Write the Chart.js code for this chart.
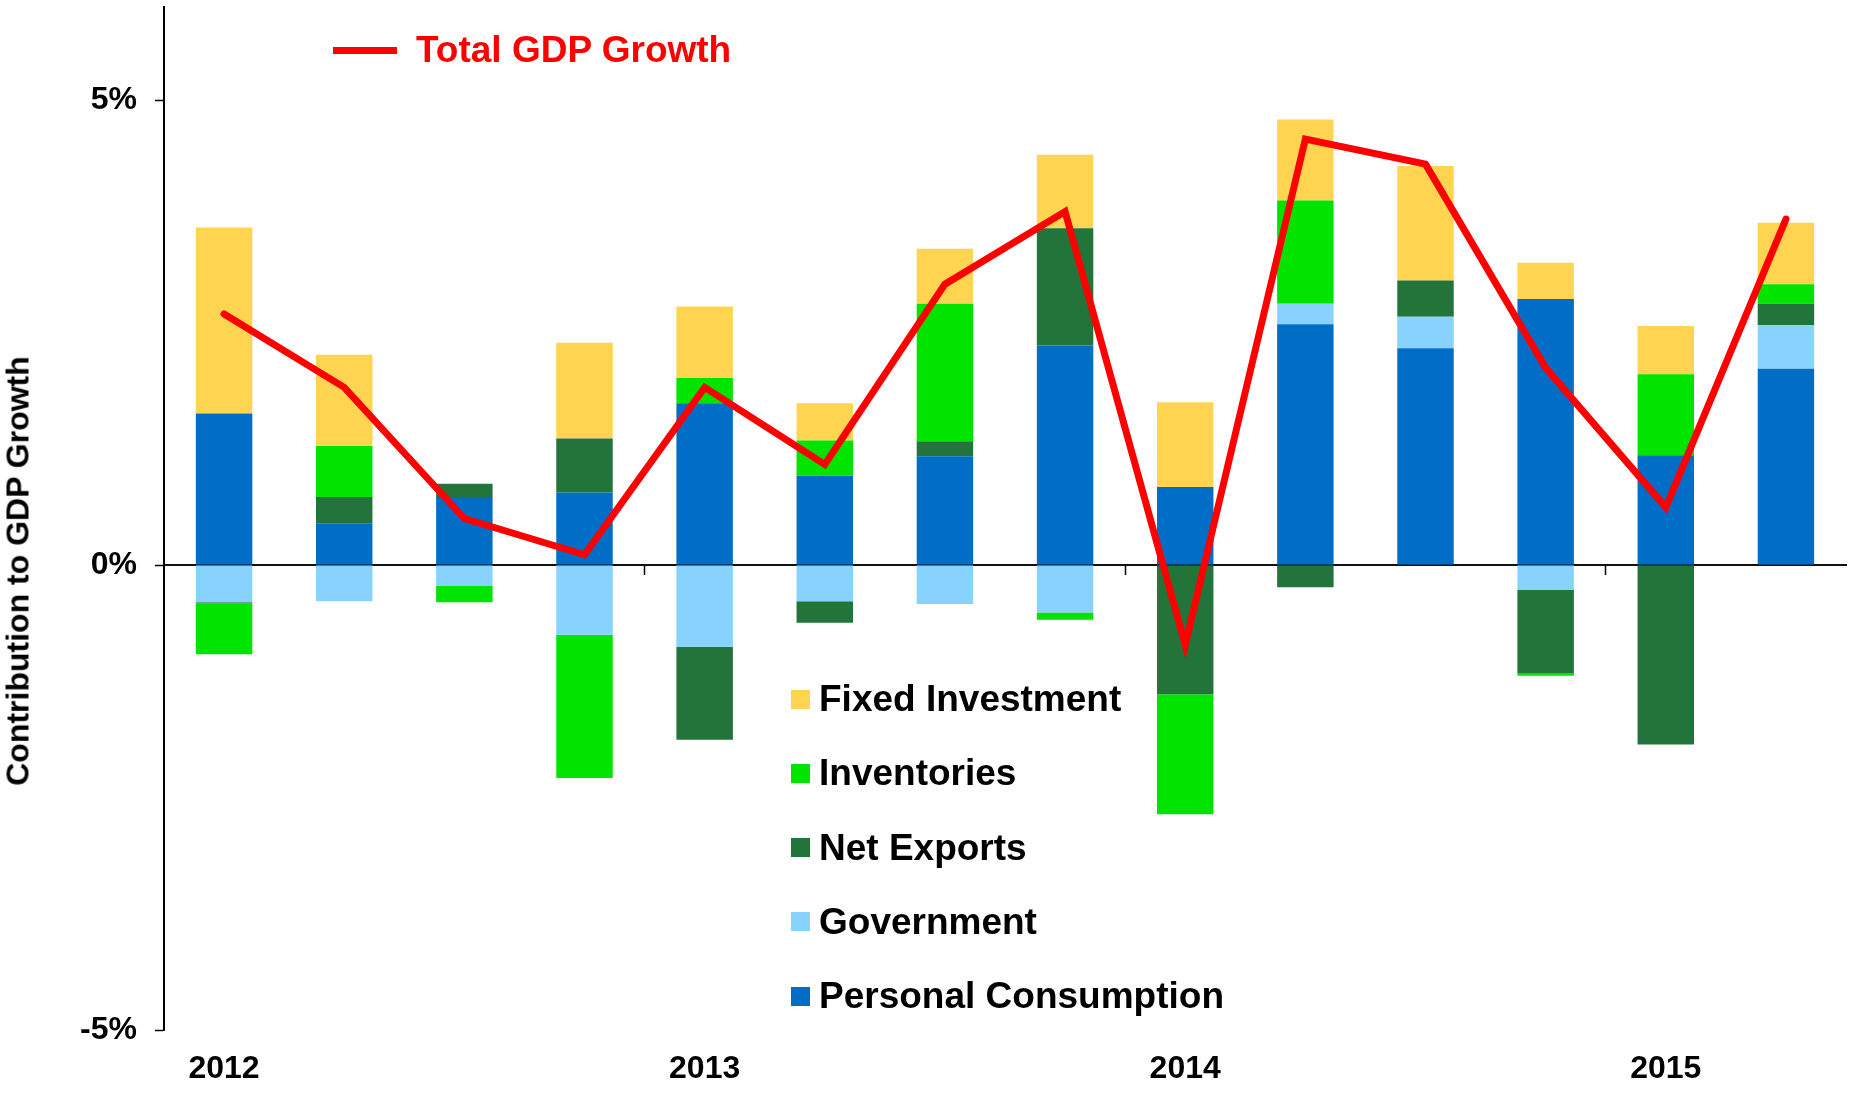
<!DOCTYPE html>
<html><head><meta charset="utf-8">
<script src="https://cdn.jsdelivr.net/npm/chart.js@4.4.1/dist/chart.umd.min.js"></script>
<style>
html,body{margin:0;padding:0;background:#fff;}
#wrap{position:relative;width:1865px;height:1096px;overflow:hidden;font-family:"Liberation Sans",Arial,sans-serif;font-weight:bold;}
canvas{position:absolute;left:0;top:0;}
#ytitle{position:absolute;left:18px;top:571px;transform:translate(-50%,-50%) rotate(-90deg);white-space:nowrap;font-size:32px;color:#000;}
.lg{position:absolute;display:flex;align-items:center;white-space:nowrap;font-size:37px;height:40px;color:#000;}
.sw{width:19px;height:19px;margin-right:9px;flex:none;}
.ln{width:64px;height:7px;margin-right:19px;flex:none;}
</style></head>
<body><div id="wrap"><canvas id="c" width="1865" height="1096"></canvas><div id="ytitle">Contribution to GDP Growth</div><div id="legends"></div></div>
<script>
const quarters = ['2012Q1','2012Q2','2012Q3','2012Q4','2013Q1','2013Q2','2013Q3','2013Q4','2014Q1','2014Q2','2014Q3','2014Q4','2015Q1','2015Q2'];
const yearLabels = ['2012','','','','2013','','','','2014','','','','2015',''];
const yTicks = [-5, 0, 5];
const personalConsumption = [1.63, 0.45, 0.72, 0.78, 1.74, 0.96, 1.17, 2.36, 0.84, 2.59, 2.33, 2.86, 1.18, 2.11];
const government = [-0.40, -0.39, -0.22, -0.75, -0.88, -0.39, -0.42, -0.51, 0, 0.22, 0.34, -0.27, 0, 0.47];
const netExports = [-0.01, 0.28, 0.155, 0.58, -1.00, -0.23, 0.16, 1.26, -1.39, -0.24, 0.39, -0.89, -1.93, 0.23];
const inventories = [-0.55, 0.55, -0.18, -1.54, 0.27, 0.38, 1.48, -0.08, -1.29, 1.11, 0, -0.03, 0.87, 0.21];
const fixedInvestment = [2.0, 0.98, 0, 1.03, 0.77, 0.40, 0.59, 0.79, 0.91, 0.87, 1.23, 0.39, 0.52, 0.66];
const totalGDP = [2.70, 1.91, 0.50, 0.11, 1.91, 1.08, 3.02, 3.80, -0.86, 4.58, 4.31, 2.12, 0.62, 3.72];

const FONT = '"Liberation Sans", Arial, sans-serif';
Chart.defaults.font.family = FONT;
Chart.defaults.color = '#000';

function bar(label, data, color){
  return {type:'bar', label, data, backgroundColor:color, borderWidth:0, order:1, stack:'bars',
          barPercentage:0.47, categoryPercentage:1.0};
}
const datasets = [
  {type:'line', label:'Total GDP Growth', data: totalGDP, borderColor:'#ff0000', backgroundColor:'#ff0000',
   borderWidth:7, pointRadius:0, tension:0, order:0, stack:'line', borderJoinStyle:'miter', borderCapStyle:'round'},
  bar('Personal Consumption', personalConsumption, '#006dc6'),
  bar('Government', government, '#87d3fe'),
  bar('Net Exports', netExports, '#22743a'),
  bar('Inventories', inventories, '#00e400'),
  bar('Fixed Investment', fixedInvestment, '#ffd451')
];

const chart = new Chart(document.getElementById('c'), {
  data: {labels: quarters, datasets},
  options: {
    responsive:false, animation:false, devicePixelRatio:1,
    layout:{padding:{left:0, top:7, right:19, bottom:0}},
    plugins:{legend:{display:false}, tooltip:{enabled:false}},
    scales:{
      x:{
        type:'category', position:'bottom', stacked:true, offset:true,
        grid:{display:false, drawTicks:false}, border:{display:false},
        ticks:{autoSkip:false, maxRotation:0, padding:20, font:{size:32, weight:'bold'},
               callback:(v,i)=>yearLabels[i]},
        afterFit:(s)=>{ s.height = 66; }
      },
      x0:{
        type:'category', labels: quarters, position:{y:0}, offset:true,
        grid:{drawOnChartArea:false, drawTicks:true, tickLength:9, offset:true, tickWidth:1.5,
              tickColor:(ctx)=> (ctx.index===4||ctx.index===8||ctx.index===12) ? '#000' : 'rgba(0,0,0,0)'},
        border:{display:true, color:'#111', width:2},
        ticks:{display:false}
      },
      y:{
        type:'linear', position:'left', stacked:true, min:-5, max:6,
        afterBuildTicks:(s)=>{ s.ticks = yTicks.map(v=>({value:v})); },
        afterFit:(s)=>{ s.width = 164; s.paddingTop = 0; s.paddingBottom = 0; },
        grid:{drawOnChartArea:false, drawTicks:true, tickLength:9, tickColor:'#000', tickWidth:1.5},
        border:{display:true, color:'#000', width:2},
        ticks:{padding:18, font:{size:32, weight:'bold'}, callback:(v)=>v+'%'}
      }
    }
  }
});

// HTML legend built from dataset definitions
const lg = document.getElementById('legends');
const lineDs = chart.data.datasets.find(d=>d.type==='line');
{
  const el = document.createElement('div');
  el.className='lg'; el.style.left='333px'; el.style.top='30px'; el.style.color=lineDs.borderColor;
  const s = document.createElement('div'); s.className='ln'; s.style.background=lineDs.borderColor;
  const t = document.createElement('span'); t.textContent=lineDs.label;
  el.appendChild(s); el.appendChild(t); lg.appendChild(el);
}
chart.data.datasets.filter(d=>d.type==='bar').reverse().forEach((d,i)=>{
  const el = document.createElement('div');
  el.className='lg'; el.style.left='791px'; el.style.top=(699+74.25*i-20)+'px';
  const s = document.createElement('div'); s.className='sw'; s.style.background=d.backgroundColor;
  const t = document.createElement('span'); t.textContent=d.label;
  el.appendChild(s); el.appendChild(t); lg.appendChild(el);
});
</script>
</body></html>
